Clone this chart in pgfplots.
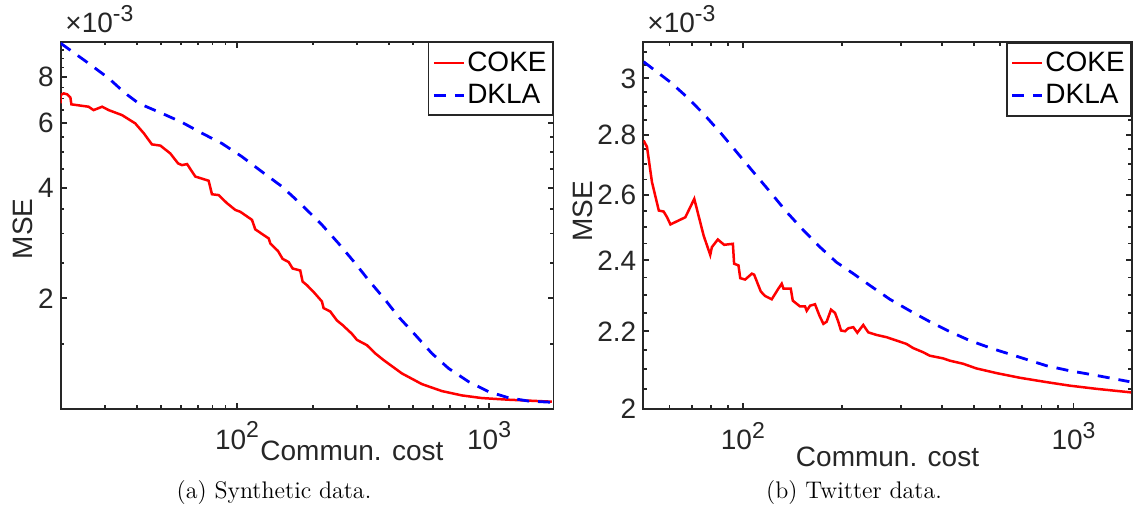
\documentclass[border=0pt]{standalone}
\usepackage{pgfplots}
\pgfplotsset{compat=1.18}
\usepackage{fontspec}
\newfontfamily\arial{Liberation Sans}
\definecolor{axgray}{RGB}{38,38,38}
\definecolor{cokered}{RGB}{255,0,0}
\definecolor{dklablue}{RGB}{0,0,255}
\newcommand{\tl}[1]{{\arial\fontsize{14}{16}\selectfont #1}}
\newcommand{\myexp}[1]{\raisebox{5.7pt}{\arial\fontsize{11.5}{12}\selectfont #1}}

\pgfplotsset{
  scale only axis,
  axis line style={axgray, line width=0.9pt},
  every tick/.style={axgray, line width=0.9pt},
  major tick length=3pt, minor tick length=1.8pt,
  tick align=inside,
  every tick label/.append style={font=\arial\fontsize{14}{16}\selectfont, text=axgray},
  label style={font=\arial\fontsize{14}{16}\selectfont, text=axgray},
  legend style={at={(1,1)}, anchor=north east, draw=axgray, line width=0.9pt,
    font=\arial\fontsize{14}{16}\selectfont, inner xsep=2pt, inner ysep=2.5pt,
    row sep=1pt, nodes={inner xsep=1pt, inner ysep=2pt}, cells={anchor=west}},
  legend image code/.code={\draw[#1] (0pt,0pt) -- (15pt,0pt);},
  xticklabel style={yshift=-3pt},
}
\tikzset{
  coke/.style={cokered, line width=1.25pt, solid},
  dkla/.style={dklablue, line width=1.4pt, dash pattern=on 6pt off 4.5pt},
}

\begin{document}
\begin{tikzpicture}[x=1pt,y=1pt]
\useasboundingbox (0,0) rectangle (567,256);

% ---------------- (a) Synthetic data ----------------
\begin{axis}[
  xmode=log, ymode=log,
  at={(30.35pt,51.65pt)}, anchor=south west,
  width=246.4pt, height=183.5pt,
  xmin=20, xmax=1800, ymin=1, ymax=10,
  xtick={100,1000}, xticklabels={\tl{10\myexp{2}},\tl{10\myexp{3}}},
  minor xtick={30,40,50,60,70,80,90,200,300,400,500,600,700,800,900},
  ytick={2,4,6,8}, yticklabels={\tl{2},\tl{4},\tl{6},\tl{8}},
  minor ytick={1.5,2.5,3,3.5,4.5,5,5.5,6.5,7,7.5,8.5,9,9.5},
  xlabel={Commun. cost}, ylabel={MSE},
  xlabel style={at={(axis description cs:0.591,-0.115)}, anchor=center},
  ylabel style={at={(axis description cs:-0.0765,0.49)}, anchor=center},
]
\addplot[coke] coordinates {
(20,6.79) (20,7.16) (20.56,7.23) (21.2,7.19) (21.85,7.04) (22.05,6.75) (25.8,6.65)
(27.0,6.51) (29.2,6.65) (31.0,6.51) (35.0,6.31) (39.5,5.99) (42.7,5.63) (46.0,5.25)
(49.7,5.21) (54.4,4.96) (58.4,4.66) (60.5,4.61) (63.4,4.64) (68.4,4.29) (77.2,4.18)
(79.6,3.84) (84.6,3.82) (91.3,3.63) (98.5,3.48) (103.1,3.44) (114.7,3.27) (118.2,3.08)
(133.6,2.91) (135.6,2.82) (145.4,2.69) (151.7,2.56) (160.3,2.51) (166.2,2.41) (178.2,2.38)
(182.1,2.22) (189.5,2.17) (201.3,2.08) (217.2,1.96) (220.6,1.88) (234.4,1.84) (249.0,1.74)
(262.3,1.69) (285.6,1.60) (299.0,1.54) (327.5,1.49) (353.4,1.415) (381.3,1.357) (450.6,1.248)
(541.0,1.167) (649.2,1.117) (779.1,1.087) (935.2,1.069) (1193,1.058) (1432,1.052) (1772,1.045)
};
\addlegendentry{COKE}
\addplot[dkla] coordinates {
(20,9.90) (25.8,8.73) (31.0,7.95) (36.1,7.23) (40.8,6.79) (50.4,6.38) (60.5,6.03)
(72.7,5.63) (87.2,5.28) (104.7,4.86) (125.7,4.42) (150.8,4.03) (180.9,3.59) (217.2,3.17)
(252.9,2.82) (294.4,2.49) (332.6,2.24) (387.1,1.98) (437.2,1.78) (508.9,1.59) (592.7,1.415)
(690.1,1.288) (828.2,1.185) (994,1.113) (1193,1.071) (1432,1.049) (1772,1.041)
};
\addlegendentry{DKLA}
\end{axis}

% ---------------- (b) Twitter data ----------------
\begin{axis}[
  xmode=log, ymode=log,
  at={(321.65pt,51.5pt)}, anchor=south west,
  width=244.2pt, height=183.5pt,
  xmin=50, xmax=1500, ymin=2, ymax=3.137,
  xtick={100,1000}, xticklabels={\tl{10\myexp{2}},\tl{10\myexp{3}}},
  minor xtick={60,70,80,90,200,300,400,500,600,700,800,900},
  ytick={2,2.2,2.4,2.6,2.8,3}, yticklabels={\tl{2},\tl{2.2},\tl{2.4},\tl{2.6},\tl{2.8},\tl{3}},
  minor ytick={2.05,2.1,2.15,2.25,2.3,2.35,2.45,2.5,2.55,2.65,2.7,2.75,2.85,2.9,2.95,3.05,3.1},
  xlabel={Commun. cost}, ylabel={MSE},
  xlabel style={at={(axis description cs:0.5,-0.1316)}, anchor=center},
  ylabel style={at={(axis description cs:-0.123,0.539)}, anchor=center},
]
\addplot[coke] coordinates {
(50.1,2.780) (51.3,2.758) (53.1,2.642) (55.7,2.551) (57.6,2.548) (59.0,2.530) (60.4,2.508)
(67.0,2.530) (71.3,2.588) (76.1,2.474) (79.7,2.416) (80.6,2.439) (84.0,2.462) (87.8,2.446)
(93.3,2.449) (94.1,2.390) (97.0,2.385) (98.2,2.348) (101.6,2.344) (106.5,2.361) (108.2,2.358)
(113.3,2.310) (116.8,2.297) (122.3,2.288) (128.1,2.318) (131.1,2.332) (132.7,2.318) (139.6,2.318)
(141.6,2.284) (148.9,2.268) (154.2,2.268) (156.0,2.256) (159.7,2.270) (165.3,2.274) (170.4,2.243)
(175.2,2.220) (179.3,2.226) (184.8,2.259) (190.0,2.250) (194.4,2.226) (198.1,2.202) (203.7,2.200)
(208.4,2.208) (215.8,2.211) (221.9,2.196) (231.3,2.217) (239.5,2.197) (253.8,2.190) (272.0,2.184)
(291.6,2.175) (312.6,2.166) (327.5,2.155) (351.1,2.144) (367.6,2.135) (403.3,2.128) (422.5,2.122)
(463.4,2.114) (508.3,2.102) (584.3,2.090) (687.1,2.078) (827.2,2.067) (972.5,2.058) (1171,2.050)
(1493,2.041)
};
\addlegendentry{COKE}
\addplot[dkla] coordinates {
(50.1,3.062) (60.4,2.986) (67.8,2.932) (76.1,2.872) (85.4,2.808) (95.9,2.740) (107.7,2.674)
(120.9,2.610) (135.8,2.546) (152.5,2.490) (171.2,2.439) (192.1,2.394) (215.8,2.361) (242.3,2.327)
(278.4,2.288) (319.9,2.256) (367.6,2.226) (422.5,2.199) (485.5,2.175) (570.8,2.153) (687.1,2.131)
(827.2,2.109) (972.5,2.096) (1171,2.084) (1476,2.068)
};
\addlegendentry{DKLA}
\end{axis}

% multipliers
\node[anchor=base west, inner sep=0pt, text=axgray] at (32.5,239.5) {\tl{×10\myexp{-3}}};
\node[anchor=base west, inner sep=0pt, text=axgray] at (323.5,239.5) {\tl{×10\myexp{-3}}};

% captions
\node[font=\fontsize{12}{14}\selectfont] at (137,9.5) {(a) Synthetic data.};
\node[font=\fontsize{12}{14}\selectfont] at (427,9.5) {(b) Twitter data.};
\end{tikzpicture}
\end{document}
